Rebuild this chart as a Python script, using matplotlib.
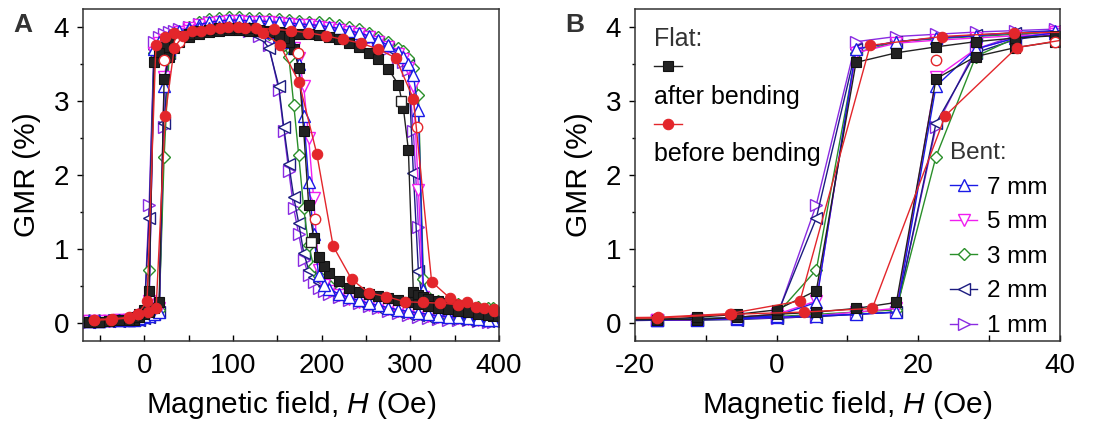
import numpy as np
import matplotlib
matplotlib.use('Agg')
import matplotlib.pyplot as plt
from matplotlib.lines import Line2D
from matplotlib.ticker import MultipleLocator

plt.rcParams['font.family'] = ['Liberation Sans', 'DejaVu Sans']
plt.rcParams['mathtext.fontset'] = 'custom'
plt.rcParams['mathtext.it'] = 'Liberation Sans:italic'
plt.rcParams['mathtext.rm'] = 'Liberation Sans'
plt.rcParams['axes.unicode_minus'] = False

# Magnetic field, increasing sweep (Oe)
h_up = [-61.8, -50.6, -39.3, -28.1, -16.9, -11.2, -5.6, 0.0, 5.6, 11.2,
        16.9, 22.5, 28.1, 33.7, 39.3, 50.6, 61.8, 73.0, 84.3, 95.5,
        106.7, 118.0, 129.2, 140.5, 151.7, 163.0, 174.2, 185.4, 196.7, 207.9,
        219.1, 230.4, 241.6, 252.9, 264.1, 275.3, 286.6, 292.2, 297.8, 303.4,
        309.1, 314.7, 320.3, 331.5, 342.8, 354.0, 365.3, 376.5, 387.7, 393.3]

# Magnetic field, decreasing sweep (Oe)
h_dn = [393.3, 387.7, 376.5, 365.3, 354.0, 342.8, 331.5, 320.3, 309.1, 297.8,
        286.6, 275.3, 264.1, 252.9, 241.6, 230.4, 219.1, 207.9, 202.3, 196.7,
        191.0, 185.4, 179.8, 174.2, 168.6, 163.0, 157.3, 151.7, 140.5, 129.2,
        118.0, 106.7, 95.5, 84.3, 73.0, 61.8, 50.6, 39.3, 33.7, 28.1,
        22.5, 16.9, 11.2, 5.6, 0.0, -5.6, -11.2, -16.9, -28.1, -39.3,
        -50.6, -61.8]

# GMR (%) - flat, after bending
after_up = [0.02, 0.02, 0.03, 0.04, 0.05, 0.05, 0.08, 0.12, 0.15, 0.20,
            0.28, 3.30, 3.60, 3.72, 3.80, 3.86, 3.90, 3.93, 3.95, 3.96,
            3.96, 3.95, 3.95, 3.94, 3.93, 3.92, 3.91, 3.90, 3.89, 3.86,
            3.83, 3.78, 3.73, 3.65, 3.56, 3.43, 3.22, 2.90, 2.34, 0.42,
            0.38, 0.35, 0.33, 0.30, 0.27, 0.24, 0.21, 0.18, 0.16, 0.15]
after_dn = [0.10, 0.11, 0.13, 0.15, 0.17, 0.19, 0.21, 0.23, 0.26, 0.28,
            0.31, 0.34, 0.37, 0.39, 0.42, 0.47, 0.57, 0.68, 0.77, 0.90,
            1.15, 1.60, 2.60, 3.45, 3.70, 3.80, 3.85, 3.88, 3.93, 3.96,
            3.98, 3.99, 3.99, 3.98, 3.96, 3.94, 3.91, 3.88, 3.85, 3.80,
            3.73, 3.65, 3.52, 0.44, 0.18, 0.12, 0.08, 0.05, 0.04, 0.03,
            0.02, 0.02]

# GMR (%) - bent, 7 mm
r7_up = [0.03, 0.03, 0.04, 0.04, 0.04, 0.05, 0.06, 0.08, 0.10, 0.12,
         0.15, 3.20, 3.70, 3.85, 3.92, 3.98, 4.03, 4.06, 4.08, 4.09,
         4.09, 4.08, 4.08, 4.07, 4.06, 4.05, 4.04, 4.03, 4.02, 4.00,
         3.98, 3.95, 3.92, 3.88, 3.82, 3.75, 3.66, 3.60, 3.50, 3.35,
         2.88, 0.45, 0.28, 0.24, 0.21, 0.18, 0.15, 0.13, 0.11, 0.10]
r7_dn = [0.05, 0.05, 0.06, 0.07, 0.08, 0.09, 0.10, 0.12, 0.14, 0.16,
         0.18, 0.21, 0.24, 0.27, 0.31, 0.35, 0.40, 0.46, 0.52, 0.65,
         1.20, 1.90, 2.80, 3.50, 3.72, 3.80, 3.85, 3.88, 3.93, 3.96,
         3.98, 4.00, 4.00, 4.00, 3.99, 3.98, 3.97, 3.95, 3.92, 3.88,
         3.85, 3.80, 3.70, 0.28, 0.10, 0.07, 0.06, 0.05, 0.04, 0.04,
         0.03, 0.03]

# 5 mm
r5_up = [0.03, 0.03, 0.03, 0.04, 0.04, 0.05, 0.06, 0.08, 0.10, 0.15,
         0.20, 3.32, 3.70, 3.85, 3.93, 3.98, 4.02, 4.05, 4.07, 4.08,
         4.08, 4.07, 4.07, 4.06, 4.05, 4.04, 4.03, 4.02, 4.00, 3.98,
         3.96, 3.93, 3.90, 3.86, 3.80, 3.73, 3.63, 3.56, 3.45, 3.20,
         1.80, 0.35, 0.25, 0.20, 0.17, 0.14, 0.12, 0.10, 0.09, 0.08]
r5_dn = [0.04, 0.04, 0.05, 0.06, 0.07, 0.08, 0.09, 0.10, 0.12, 0.14,
         0.16, 0.19, 0.22, 0.25, 0.29, 0.33, 0.38, 0.44, 0.52, 0.72,
         1.69, 2.50, 3.20, 3.58, 3.72, 3.80, 3.84, 3.87, 3.92, 3.95,
         3.97, 3.98, 3.99, 3.98, 3.97, 3.96, 3.95, 3.90, 3.88, 3.85,
         3.82, 3.78, 3.65, 0.30, 0.12, 0.08, 0.05, 0.04, 0.04, 0.03,
         0.03, 0.03]

# 3 mm
r3_up = [0.04, 0.04, 0.05, 0.05, 0.06, 0.06, 0.07, 0.09, 0.12, 0.15,
         0.18, 2.25, 3.60, 3.85, 3.92, 4.00, 4.06, 4.10, 4.12, 4.13,
         4.13, 4.12, 4.12, 4.11, 4.10, 4.09, 4.08, 4.07, 4.06, 4.05,
         4.03, 4.00, 3.97, 3.92, 3.86, 3.80, 3.71, 3.67, 3.58, 3.45,
         3.08, 0.60, 0.35, 0.30, 0.28, 0.26, 0.24, 0.22, 0.21, 0.20]
r3_dn = [0.05, 0.05, 0.06, 0.07, 0.08, 0.09, 0.10, 0.12, 0.14, 0.16,
         0.19, 0.22, 0.26, 0.30, 0.34, 0.39, 0.45, 0.52, 0.57, 0.64,
         0.77, 1.05, 1.55, 2.27, 2.95, 3.60, 3.76, 3.82, 3.90, 3.95,
         3.98, 4.00, 4.00, 4.00, 3.99, 3.98, 3.96, 3.93, 3.90, 3.87,
         3.84, 3.80, 3.65, 0.72, 0.12, 0.08, 0.06, 0.05, 0.04, 0.04,
         0.03, 0.03]

# 2 mm
r2_up = [0.02, 0.03, 0.03, 0.03, 0.04, 0.04, 0.05, 0.07, 0.09, 0.12,
         0.15, 2.70, 3.65, 3.83, 3.90, 3.97, 4.02, 4.05, 4.07, 4.08,
         4.08, 4.07, 4.06, 4.05, 4.04, 4.03, 4.02, 4.01, 4.00, 3.98,
         3.96, 3.93, 3.89, 3.85, 3.79, 3.72, 3.62, 3.55, 3.48, 2.03,
         0.70, 0.22, 0.18, 0.15, 0.12, 0.10, 0.08, 0.07, 0.06, 0.05]
r2_dn = [0.03, 0.03, 0.04, 0.05, 0.06, 0.07, 0.08, 0.09, 0.11, 0.13,
         0.15, 0.18, 0.21, 0.25, 0.29, 0.34, 0.39, 0.45, 0.50, 0.56,
         0.63, 0.72, 0.95, 1.35, 1.70, 2.15, 2.65, 3.20, 3.72, 3.88,
         3.95, 3.98, 3.99, 3.99, 3.98, 3.97, 3.96, 3.94, 3.92, 3.89,
         3.85, 3.80, 3.70, 1.42, 0.10, 0.07, 0.05, 0.04, 0.04, 0.03,
         0.03, 0.02]

# 1 mm
r1_up = [0.03, 0.03, 0.03, 0.04, 0.04, 0.05, 0.06, 0.07, 0.09, 0.12,
         0.15, 2.65, 3.70, 3.88, 3.95, 4.00, 4.04, 4.06, 4.07, 4.08,
         4.08, 4.07, 4.06, 4.05, 4.04, 4.03, 4.02, 4.00, 3.99, 3.97,
         3.95, 3.92, 3.88, 3.83, 3.77, 3.70, 3.60, 3.52, 3.42, 2.60,
         1.30, 0.20, 0.14, 0.11, 0.09, 0.07, 0.06, 0.05, 0.04, 0.04]
r1_dn = [0.02, 0.02, 0.03, 0.04, 0.05, 0.05, 0.06, 0.07, 0.09, 0.11,
         0.14, 0.17, 0.20, 0.23, 0.27, 0.31, 0.35, 0.39, 0.43, 0.48,
         0.55, 0.65, 0.85, 1.20, 1.55, 2.05, 2.60, 3.15, 3.75, 3.88,
         3.95, 3.98, 4.00, 4.00, 3.99, 3.99, 3.98, 3.97, 3.95, 3.93,
         3.90, 3.87, 3.80, 1.60, 0.08, 0.06, 0.05, 0.04, 0.03, 0.03,
         0.02, 0.02]

# flat, before bending (measured on its own field steps)
hb_up = [-57.0, -37.0, -16.9, -6.5, 3.8, 13.5, 23.8, 33.9, 44.0, 64.5,
         85.0, 105.5, 126.0, 146.0, 165.0, 185.0, 204.5, 224.5, 244.0, 264.0,
         283.5, 303.5, 324.0, 344.5, 364.0, 383.0, 394.0]
before_up = [0.04, 0.05, 0.07, 0.12, 0.15, 0.20, 2.80, 3.72, 3.88, 3.95,
             3.99, 4.00, 3.98, 3.97, 3.95, 3.92, 3.88, 3.83, 3.78, 3.70,
             3.58, 3.03, 0.56, 0.34, 0.29, 0.21, 0.19]
hb_dn = [394.0, 374.0, 354.0, 334.0, 314.0, 294.0, 273.0, 253.0, 234.0, 213.0,
         194.5, 174.6, 153.0, 134.0, 114.0, 94.0, 74.0, 54.0, 33.5, 23.3,
         13.2, 3.3, -6.6, -16.7, -36.0, -56.0]
before_dn = [0.17, 0.22, 0.25, 0.27, 0.28, 0.29, 0.36, 0.41, 0.59, 1.04,
             2.29, 3.25, 3.76, 3.92, 3.98, 4.00, 3.97, 3.94, 3.92, 3.87,
             3.75, 0.30, 0.13, 0.08, 0.06, 0.05]

# open symbols (repeat measurement of the flat samples)
h_open_sq = [290.0, 188.0]
gmr_open_sq = [3.00, 1.10]
h_open_ci = [22.5, 39.3, 173.0, 192.0, 307.0]
gmr_open_ci = [3.55, 3.80, 3.65, 1.40, 2.65]

bent = [
    ('1 mm', '>', '#8a2be2', r1_up, r1_dn),
    ('2 mm', '<', '#1c1c80', r2_up, r2_dn),
    ('3 mm', 'D', '#2a8f2a', r3_up, r3_dn),
    ('5 mm', 'v', '#f01ef0', r5_up, r5_dn),
    ('7 mm', '^', '#1a1ae6', r7_up, r7_dn),
]
BLACK = '#222222'
RED = '#e3262b'


def draw(ax):
    handles = {}
    for name, mk, col, up, dn in bent:
        ms = 6 if mk == 'D' else 8
        for h, g in ((h_up, up), (h_dn, dn)):
            ln, = ax.plot(h, g, color=col, lw=1, marker=mk, ms=ms,
                          mfc='white', mec=col, mew=1)
        handles[name] = ln
    for h, g in ((h_up, after_up), (h_dn, after_dn)):
        ln, = ax.plot(h, g, color=BLACK, lw=1, marker='s', ms=6.5,
                      mfc=BLACK, mec='#111111', mew=0.8)
    handles['after'] = ln
    ax.plot(h_open_sq, gmr_open_sq, ls='none', marker='s', ms=6.5,
            mfc='white', mec=BLACK, mew=1)
    ax.plot(h_open_ci, gmr_open_ci, ls='none', marker='o', ms=7.5,
            mfc='white', mec=RED, mew=1)
    for h, g in ((hb_up, before_up), (hb_dn, before_dn)):
        ln, = ax.plot(h, g, color=RED, lw=1, marker='o', ms=7.5,
                      mfc=RED, mec=RED, mew=0.8)
    handles['before'] = ln

    ax.set_ylim(-0.24, 4.24)
    ax.yaxis.set_major_locator(MultipleLocator(1))
    ax.yaxis.set_minor_locator(MultipleLocator(0.5))
    ax.tick_params(axis='x', which='both', direction='in', length=4, width=1,
                   labelsize=20, pad=9)
    ax.tick_params(axis='y', which='major', direction='out', length=4, width=1,
                   labelsize=20, pad=6)
    ax.tick_params(axis='y', which='minor', direction='out', length=2.5, width=1)
    for sp in ax.spines.values():
        sp.set_linewidth(1.1)
        sp.set_color('#333333')
    ax.set_xlabel('Magnetic field, $H$ (Oe)', fontsize=21.5, labelpad=7)
    ax.set_ylabel('GMR (%)', fontsize=21.5, labelpad=9)
    return handles


fig = plt.figure(figsize=(11.09, 4.33), dpi=100)
ax_a = fig.add_axes([0.0748, 0.2125, 0.3752, 0.7665])
ax_b = fig.add_axes([0.5726, 0.2125, 0.3832, 0.7665])

draw(ax_a)
ax_a.set_xlim(-69, 400)
ax_a.xaxis.set_major_locator(MultipleLocator(100))
ax_a.xaxis.set_minor_locator(MultipleLocator(50))

hd = draw(ax_b)
ax_b.set_xlim(-20, 40)
ax_b.xaxis.set_major_locator(MultipleLocator(20))
ax_b.xaxis.set_minor_locator(MultipleLocator(10))

# legends in panel B
blank = Line2D([], [], ls='none', marker='none')
leg_flat = ax_b.legend([hd['after'], blank, hd['before'], blank],
                       ['', 'after bending', '', 'before bending'],
                       title='Flat:', loc='upper left', bbox_to_anchor=(0.045, 0.945),
                       frameon=False, fontsize=18, title_fontsize=18,
                       handlelength=1.1, handletextpad=-1.1, labelspacing=0.19,
                       borderpad=0, borderaxespad=0, alignment='left')
leg_flat.get_title().set_color('#333333')
ax_b.add_artist(leg_flat)

leg_bent = ax_b.legend([hd['7 mm'], hd['5 mm'], hd['3 mm'], hd['2 mm'], hd['1 mm']],
                       ['7 mm', '5 mm', '3 mm', '2 mm', '1 mm'],
                       title='Bent:', loc='upper left', bbox_to_anchor=(0.742, 0.60),
                       frameon=False, fontsize=17.5, title_fontsize=17.5,
                       handlelength=1.1, handletextpad=0.4, labelspacing=0.52,
                       borderpad=0, borderaxespad=0, alignment='left')
leg_bent.get_title().set_color('#333333')

fig.text(0.012, 0.926, 'A', fontsize=19, fontweight='bold', color='#333333', va='baseline')
fig.text(0.510, 0.926, 'B', fontsize=19, fontweight='bold', color='#333333', va='baseline')

fig.savefig('out.png', dpi=100)
